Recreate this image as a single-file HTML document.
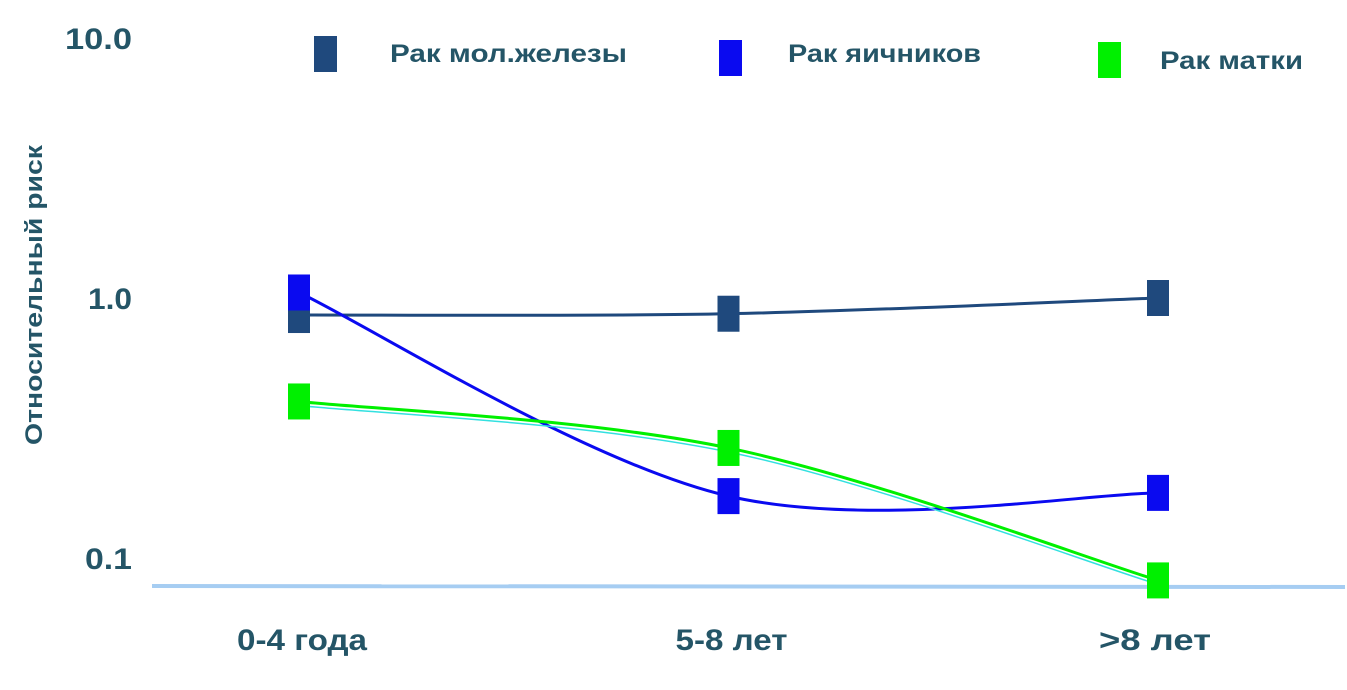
<!DOCTYPE html>
<html><head><meta charset="utf-8">
<style>
body{margin:0;background:#fff;}
svg text{font-family:"Liberation Sans",sans-serif;font-weight:bold;fill:#245567;}
</style></head>
<body>
<svg id="chart" width="1347" height="685" xmlns="http://www.w3.org/2000/svg">
<g id="axes"></g>
<g id="series"></g>
<g id="legend"></g>
</svg>
<script>
const categories = ["0-4 года", "5-8 лет", ">8 лет"];
const seriesNames = ["Рак мол.железы", "Рак яичников", "Рак матки"];
const breast = [0.86, 0.87, 1.0];
const ovarian = [1.05, 0.173, 0.178];
const uterine = [0.40, 0.265, 0.082];
const yTicks = [10, 1, 0.1];
const yTickLabels = ["10.0", "1.0", "0.1"];

const NS = "http://www.w3.org/2000/svg";
const xPos = i => 299 + i * 429.5;
const yPos = v => 298 - 260 * Math.log10(v);
function mk(tag, attrs, parent, txt){
  const e = document.createElementNS(NS, tag);
  for (const k in attrs) e.setAttribute(k, attrs[k]);
  if (txt !== undefined) e.textContent = txt;
  parent.appendChild(e); return e;
}
const axes = document.getElementById('axes');
const series = document.getElementById('series');
const legend = document.getElementById('legend');

const base = mk('line', {x1:152, x2:1345, y1:586, y2:587, stroke:'#a6cdf2', 'stroke-width':4}, axes);



const yTickW = [67, 44, 47];
yTicks.forEach((v, i) => {
  const t = mk('text', {x:132 - yTickW[i], y:yPos(v) + 11, 'font-size':30, textLength:yTickW[i], lengthAdjust:'spacingAndGlyphs'}, axes, yTickLabels[i]);
  
  
});
const xLabW = [130, 112, 112];
categories.forEach((c, i) => {
  const t = mk('text', {x:xPos(i) + 3 - xLabW[i]/2 - (i==2?6:0), y:650, 'font-size':30, textLength:xLabW[i], lengthAdjust:'spacingAndGlyphs'}, axes, c);
  
  
});
const yt = mk('text', {x:-150, y:0, 'font-size':24, textLength:300, lengthAdjust:'spacingAndGlyphs', transform:'translate(42,295) rotate(-90)'}, axes, 'Относительный риск');



function curve(pts){
  let d = `M${pts[0][0]},${pts[0][1]}`;
  for (let i = 0; i < pts.length - 1; i++){
    const p0 = pts[Math.max(i-1,0)], p1 = pts[i], p2 = pts[i+1], p3 = pts[Math.min(i+2,pts.length-1)];
    const c1 = [p1[0] + (p2[0]-p0[0])/6, p1[1] + (p2[1]-p0[1])/6];
    const c2 = [p2[0] - (p3[0]-p1[0])/6, p2[1] - (p3[1]-p1[1])/6];
    d += ` C${c1[0]},${c1[1]} ${c2[0]},${c2[1]} ${p2[0]},${p2[1]}`;
  }
  return d;
}
const defs = [
  {vals:breast, color:'#1f497d', name:'breast-cancer'},
  {vals:ovarian, color:'#0a0af0', name:'ovarian-cancer'},
  {vals:uterine, color:'#00f000', name:'uterine-cancer'}
];
defs.forEach(s => {
  const pts = s.vals.map((v, i) => [xPos(i), yPos(v)]);
  if (s.name === 'uterine-cancer'){
    const c = mk('path', {d:curve(pts.map(p=>[p[0],p[1]+4])), fill:'none', stroke:'#33e0e0', 'stroke-width':1.5}, series);
    
    
  }
  const p = mk('path', {d:curve(pts), fill:'none', stroke:s.color, 'stroke-width':3}, series);
  
  
});
defs.forEach(s => {
  s.vals.forEach((v, i) => {
    const r = mk('rect', {x:xPos(i) - 11, y:yPos(v) - 18, width:22, height:36, fill:s.color}, series);
    
    
  });
});
const leg = [[314, 36, 390, 62, 237], [719, 40, 788, 62, 193], [1098, 42, 1160, 69, 143]];
defs.forEach((s, i) => {
  const L = leg[i];
  const r = mk('rect', {x:L[0], y:L[1], width:23, height:36, fill:s.color}, legend);
  
  
  const t = mk('text', {x:L[2], y:L[3], 'font-size':25, textLength:L[4], lengthAdjust:'spacingAndGlyphs'}, legend, seriesNames[i]);
  
  
});
</script>
</body></html>
